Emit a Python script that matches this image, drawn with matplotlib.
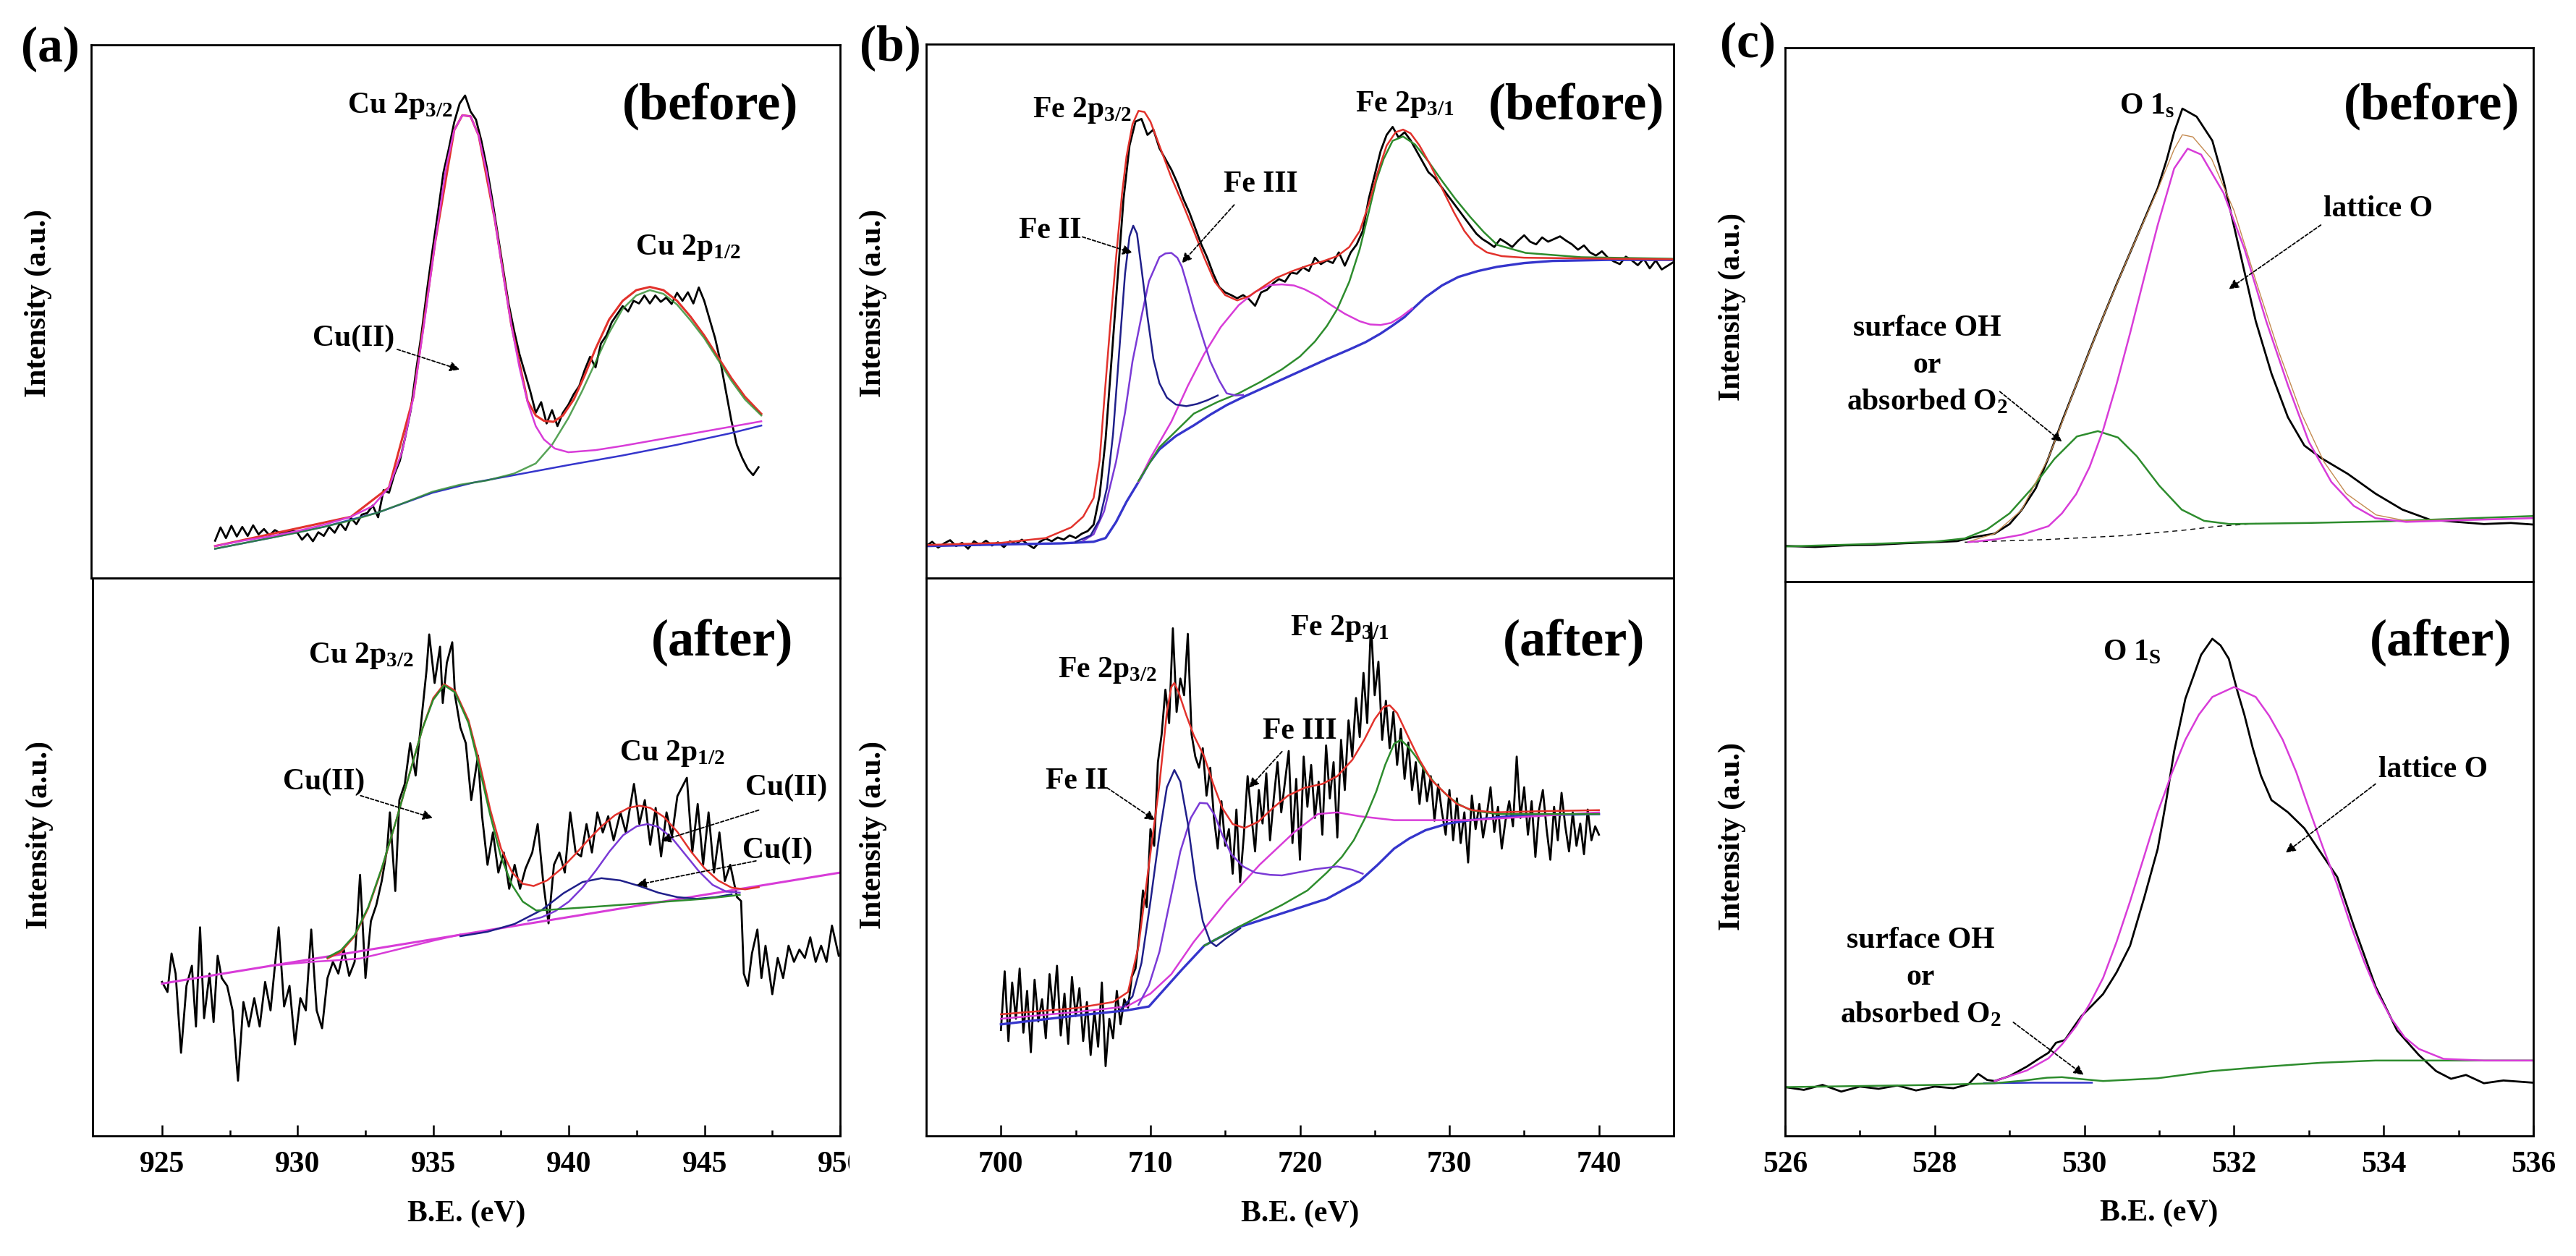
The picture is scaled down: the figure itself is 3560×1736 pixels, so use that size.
import numpy as np
import matplotlib
matplotlib.use('Agg')
import matplotlib.pyplot as plt
from matplotlib.transforms import Bbox, TransformedBbox

plt.rcParams['font.family'] = 'Liberation Serif'
plt.rcParams['font.weight'] = 'bold'
plt.rcParams['axes.labelweight'] = 'bold'
plt.rcParams['mathtext.default'] = 'regular'

#--------------------------------------#
# values, y in % of each panel's height

# (a) Cu 2p, before
a1_data_start, a1_data_step = 927.0, 0.2
a1_data = [7.0, 9.5, 7.5, 9.8, 7.8, 9.6, 7.9, 9.9, 8.2, 9.2, 8.0, 9.0, 8.4, 8.6, 8.9, 8.7,
           7.2, 8.3, 6.9, 8.6, 7.9, 9.6, 8.5, 10.3, 9.0, 11.3, 10.1, 11.9, 12.2, 13.6, 11.4,
           16.5, 16.0, 19.5, 22.0, 26.5, 31.5, 39.0, 46.0, 54.0, 61.5, 68.5, 76.0, 80.5, 85.5,
           89.0, 90.5, 87.5, 86.0, 82.0, 77.0, 71.0, 64.5, 58.0, 51.5, 46.5, 42.0, 38.5, 35.0,
           31.0, 33.0, 29.0, 31.5, 28.5, 31.0, 32.5, 34.5, 36.0, 39.0, 41.5, 39.5, 44.0, 45.5,
           48.0, 49.5, 51.0, 50.0, 52.0, 51.5, 53.0, 51.5, 53.0, 51.8, 52.6, 51.4, 53.5, 52.0,
           53.6, 51.5, 54.5, 52.0, 48.5, 45.0, 40.5, 35.0, 29.5, 25.0, 22.5, 20.5, 19.3, 20.8]
a1_pink_x = [927.0, 928, 929, 930, 931, 932, 932.8, 933.4, 933.9, 934.3, 934.7, 935.1, 935.5,
             935.8, 936.1, 936.4, 936.7, 937.0, 937.3, 937.6, 937.9, 938.2, 938.5, 938.8,
             939.1, 939.5, 940.0, 941, 942, 943, 944, 945, 946, 947.1]
a1_pink_y = [6.0, 7.0, 7.8, 8.8, 10.0, 11.5, 13.5, 17, 24, 34, 48, 63, 77, 84, 86.8, 86.6, 83,
             76, 67, 57, 47.5, 39.5, 33, 28.5, 26, 24.3, 23.6, 24.0, 24.8, 25.7, 26.6, 27.5,
             28.4, 29.4]
a1_red_x = [927.0, 932, 933.4, 934.3, 935.1, 935.8, 936.1, 936.4, 936.7, 937.3, 937.9, 938.5,
            938.8, 939.1, 939.45, 939.8, 940.2, 940.6, 941.0, 941.5, 942.0, 942.5, 943.0,
            943.5, 944.0, 944.5, 945.0, 945.5, 946.0, 946.5, 947.1]
a1_red_y = [6.0, 11.5, 17, 34, 63, 84, 86.8, 86.6, 83, 67, 47.5, 33.2, 30.5, 29.5, 29.3, 30.5,
            33.5, 38, 43, 48.5, 52, 54, 54.6, 54, 52, 49, 45.5, 41.5, 37.5, 34, 30.8]
a1_green_x = [927.0, 928, 929, 930, 931, 932, 933, 934, 935, 936, 937, 938, 938.8, 939.4,
              940.0, 940.5, 941.0, 941.5, 942.0, 942.5, 943.0, 943.5, 944.0, 944.5, 945.0,
              945.5, 946.0, 946.5, 947.1]
a1_green_y = [5.5, 6.5, 7.5, 8.5, 9.6, 10.8, 12.3, 14.2, 16.2, 17.5, 18.3, 19.6, 21.5, 25, 30,
              35, 40.5, 46, 50.5, 53, 54, 53.3, 51.3, 48.3, 45, 41, 37, 33.5, 30.5]
a1_blue_x = [927.0, 929, 931, 933, 935, 936.5, 938, 940, 942, 944, 946, 947.1]
a1_blue_y = [5.5, 7.5, 9.6, 12.3, 16.0, 17.9, 19.3, 21.2, 23.0, 25.0, 27.2, 28.6]

# (a) Cu 2p, after
a2_data_x = [925.0, 925.2, 925.35, 925.5, 925.7, 925.9, 926.1, 926.25, 926.4, 926.55, 926.75,
             926.9, 927.05, 927.2, 927.4, 927.6, 927.8, 928.0, 928.2, 928.4, 928.6, 928.8,
             929.0, 929.3, 929.5, 929.7, 929.9, 930.1, 930.3, 930.5, 930.7, 930.9, 931.1,
             931.3, 931.5, 931.7, 931.9, 932.1, 932.3, 932.5, 932.7, 932.9, 933.1, 933.3,
             933.4, 933.6, 933.75, 933.95, 934.15, 934.35, 934.55, 934.75, 934.85, 935.05,
             935.25, 935.35, 935.5, 935.7, 935.8, 936.0, 936.2, 936.4, 936.65, 936.8, 937.0,
             937.2, 937.4, 937.6, 937.8, 938.0, 938.2, 938.4, 938.65, 938.85, 939.05, 939.25,
             939.45, 939.65, 939.85, 940.05, 940.25, 940.45, 940.65, 940.85, 941.05, 941.25,
             941.45, 941.65, 941.9, 942.1, 942.4, 942.6, 942.8, 943.0, 943.2, 943.4, 943.6,
             943.8, 944.0, 944.35, 944.55, 944.75, 944.95, 945.15, 945.35, 945.55, 945.75,
             945.95, 946.2, 946.35, 946.45, 946.6, 946.75, 946.95, 947.1, 947.25, 947.5,
             947.7, 947.9, 948.1, 948.3, 948.5, 948.7, 948.9, 949.1, 949.3, 949.5, 949.7,
             949.95]
a2_data_y = [27.6, 25.8, 32.7, 29.1, 14.9, 26.9, 30.5, 19.6, 37.4, 21.1, 29.1, 20.4, 32.3,
             28.3, 26.9, 22.5, 9.9, 24.0, 19.6, 24.7, 19.6, 27.6, 22.5, 37.4, 23.2, 26.9,
             16.4, 24.7, 22.5, 37.0, 22.5, 19.3, 28.3, 31.2, 29.1, 33.4, 28.7, 31.2, 46.8,
             28.3, 38.5, 41.4, 45.7, 51.5, 58.0, 43.9, 60.2, 63.1, 70.4, 64.6, 74.0, 83.4,
             89.9, 81.2, 87.7, 77.6, 84.8, 88.5, 79.0, 73.2, 70.4, 60.2, 68.2, 57.3, 48.6,
             54.4, 47.2, 50.8, 44.3, 48.6, 44.3, 47.9, 50.8, 55.9, 45.7, 38.1, 48.6, 50.8,
             47.2, 58.0, 50.8, 50.1, 55.9, 50.8, 58.0, 54.4, 57.3, 53.0, 58.0, 54.4, 63.1,
             55.9, 60.2, 52.2, 58.8, 50.1, 58.0, 53.7, 60.9, 64.2, 50.8, 59.5, 48.6, 58.0,
             47.2, 54.4, 45.7, 48.6, 42.8, 42.1, 29.1, 26.9, 32.7, 37.0, 28.3, 34.1, 25.4,
             31.9, 28.3, 34.1, 31.2, 33.4, 31.9, 35.6, 31.2, 34.1, 31.2, 37.7, 32.3]
a2_mag_x = [925.0, 950.0]
a2_mag_y = [27.3, 47.2]
a2_mag2_x = [929.0, 930.5, 931.5, 932.3, 933.0, 934.0, 935.0, 936.0]
a2_mag2_y = [30.5, 31.2, 31.5, 31.8, 32.6, 33.8, 35.0, 36.1]
a2_green_x = [931.1, 931.6, 932.1, 932.6, 933.1, 933.6, 934.1, 934.6, 935.0, 935.4, 935.8,
              936.3, 936.7, 937.1, 937.5, 937.9, 938.3, 938.8, 939.5, 941, 943, 945, 946.3]
a2_green_y = [32.0, 33.3, 36.0, 41, 48, 56, 64.5, 73, 78.2, 80.8, 79.5, 74.0, 66.0, 57.5, 50,
              45, 42, 40.4, 40.6, 41.1, 41.8, 42.5, 43.2]
a2_red_x = [931.1, 931.6, 932.1, 932.6, 933.1, 933.6, 934.1, 934.6, 935.0, 935.4, 935.8, 936.3,
            936.7, 937.1, 937.5, 937.9, 938.3, 938.7, 939.2, 939.7, 940.2, 940.7, 941.2,
            941.7, 942.2, 942.6, 943.0, 943.5, 944.0, 944.5, 945.0, 945.5, 946.0, 946.5, 947.0]
a2_red_y = [31.8, 33.0, 35.8, 40.8, 47.8, 56, 64.5, 73, 78.5, 81.0, 79.8, 74.5, 67.0, 58.5,
            51.5, 47.3, 45.2, 44.8, 45.8, 47.8, 50.3, 53, 55.5, 57.5, 58.8, 59.2, 58.8, 57.2,
            54.5, 51, 48, 45.8, 44.5, 44.2, 44.6]
a2_violet_x = [938.5, 939.0, 939.5, 940.0, 940.5, 941.0, 941.5, 942.0, 942.5, 942.9, 943.3,
               943.8, 944.3, 944.8, 945.3, 945.8, 946.3]
a2_violet_y = [38.6, 39.2, 40.3, 42.0, 44.5, 47.6, 51.0, 53.9, 55.5, 55.9, 55.4, 53.4, 50.4,
               47.4, 45.0, 43.8, 43.6]
a2_navy_x = [936.0, 937.0, 938.0, 939.0, 939.8, 940.5, 941.2, 941.9, 942.6, 943.3, 944.0,
             944.7, 945.4, 946.0]
a2_navy_y = [35.8, 36.6, 38.0, 40.5, 43.5, 45.5, 46.2, 45.8, 44.8, 43.6, 42.8, 42.5, 42.8, 43.3]

# (b) Fe 2p, before
b1_data_start, b1_data_step = 695.0, 0.4
b1_data = [6.0, 6.8, 5.7, 6.5, 7.1, 6.0, 6.6, 5.5, 6.9, 6.2, 7.0, 6.1, 6.7, 5.8, 6.9, 6.4,
           7.2, 6.3, 5.6, 6.8, 7.4, 6.9, 7.6, 7.2, 8.0, 7.5, 8.3, 8.8, 10.0, 15.5, 26.0, 41.0,
           56.0, 71.0, 81.0, 85.5, 86.0, 83.0, 84.0, 80.5, 78.5, 76.5, 74.0, 71.0, 68.5, 65.5,
           62.5, 60.0, 57.0, 54.5, 53.5, 53.0, 52.4, 53.0, 52.2, 51.0, 53.5, 54.0, 55.2, 56.0,
           55.5, 57.2, 57.0, 58.2, 57.5, 60.0, 58.8, 59.5, 59.0, 61.0, 58.5, 61.0, 62.5, 65.0,
           71.0, 75.5, 80.0, 83.0, 84.5, 82.5, 83.5, 82.0, 80.0, 78.0, 76.0, 75.0, 73.5, 72.0,
           70.5, 69.0, 67.5, 66.0, 64.5, 63.5, 62.8, 62.0, 63.5, 62.8, 62.0, 63.2, 64.2, 63.0,
           62.5, 63.8, 63.0, 63.5, 64.0, 63.2, 62.5, 61.5, 62.3, 61.0, 60.4, 61.2, 60.0, 59.3,
           58.8, 60.2, 59.5, 58.6, 59.8, 58.0, 59.5, 57.8, 58.5, 59.2]
b1_red_x = [695.0, 700, 703, 704.7, 705.5, 706.2, 706.6, 706.9, 707.3, 707.7, 708.1, 708.4,
            708.8, 709.2, 709.6, 710.0, 710.6, 711.4, 712.1, 712.9, 713.6, 714.3, 715.0,
            715.8, 716.6, 717.5, 718.4, 719.5, 720.5, 721.5, 722.5, 723.3, 724.0, 724.6,
            725.2, 725.8, 726.4, 726.9, 727.4, 728.0, 728.7, 729.5, 730.3, 731.0, 731.7,
            732.5, 733.5, 735, 738, 741, 745]
b1_red_y = [6.2, 6.6, 7.5, 9.5, 11.5, 15, 22, 33, 47, 60, 72, 79, 85, 87.5, 87.3, 85.5, 81,
            75, 70.5, 65, 60, 55.5, 53, 52, 52.8, 54.5, 56.2, 57.5, 58.5, 59.3, 60.3, 62, 65,
            70, 76, 81, 83.5, 84, 83.3, 81, 77.5, 73, 68.5, 65, 62.5, 61, 60.3, 60, 59.9,
            59.8, 59.7]
b1_navy_x = [705.0, 706.0, 706.6, 707.1, 707.5, 707.9, 708.3, 708.6, 708.85, 709.1, 709.4,
             709.8, 710.2, 710.6, 711.1, 711.7, 712.4, 713.1, 713.8, 714.5]
b1_navy_y = [6.8, 8.0, 11, 17, 27, 42, 57, 64, 66, 64.5, 58, 49, 41, 36.5, 33.8, 32.5, 32.2,
             32.6, 33.3, 34.2]
b1_violet_x = [705.5, 706.2, 706.9, 707.7, 708.3, 708.8, 709.4, 709.9, 710.6, 711.0, 711.4,
               711.8, 712.1, 712.5, 712.9, 713.5, 714.0, 714.6, 715.1, 715.7, 716.2]
b1_violet_y = [7.0, 8.2, 12.5, 21.8, 31, 40.6, 49, 55.6, 60.1, 60.8, 60.9, 60.0, 58.3, 54.5,
               50.4, 45, 40.6, 37, 34.6, 34.2, 34.3]
b1_mag_x = [709.2, 710.0, 711.4, 712.5, 713.6, 714.7, 715.9, 717.0, 718.0, 718.8, 719.6,
            720.3, 721.2, 722.1, 723.0, 724.0, 724.7, 725.4, 726.1, 726.75, 727.5]
b1_mag_y = [18, 22.5, 29.3, 36, 42, 47, 51.1, 53.6, 54.9, 55.0, 54.8, 54.1, 52.8, 51.1, 49.5,
            48.1, 47.5, 47.4, 47.8, 48.9, 50.5]
b1_bg_x = [695.0, 700, 704, 706.2, 707.0, 707.7, 708.4, 709.2, 709.9, 710.6, 711.7, 712.9,
           714.0, 715.1, 716.2, 717.3, 718.8, 720.3, 721.8, 723.3, 724.4, 725.4, 726.2,
           727.0, 727.7, 728.4, 729.5, 730.6, 731.9, 733.2, 735, 736.9, 738.8, 740.6, 742.5, 745]
b1_bg_y = [6.0, 6.3, 6.5, 6.8, 7.5, 10.5, 14.3, 18, 21.5, 24.1, 26.6, 28.6, 30.6, 32.4, 33.9,
           35.3, 37.2, 39.1, 41.0, 42.8, 44.2, 45.8, 47.3, 48.9, 50.8, 52.6, 54.8, 56.4,
           57.5, 58.3, 59.0, 59.4, 59.5, 59.6, 59.6, 59.6]
b1_green_x = [709.2, 710.6, 712.9, 714.5, 715.9, 717.4, 718.8, 720.0, 721.0, 721.8, 722.5,
              723.3, 724.0, 724.6, 725.1, 725.6, 726.2, 726.9, 727.7, 728.6, 729.5, 730.4,
              731.4, 732.3, 733.2, 735.1, 738.8, 745]
b1_green_y = [18.2, 24.5, 30.8, 33.0, 34.6, 36.8, 39.1, 41.5, 44.3, 47.2, 50.4, 55.5, 61.6,
              68.5, 74.4, 78.5, 81.9, 82.7, 81.2, 78, 74.4, 71, 67.6, 64.8, 62.4, 60.9, 60.1,
              59.8]

# (b) Fe 2p, after
b2_data_start, b2_data_step = 700.0, 0.25
b2_data = [19.0, 29.5, 17.0, 27.5, 21.0, 30.0, 18.5, 26.0, 15.0, 28.0, 20.5, 24.5, 17.5,
           29.0, 22.0, 30.5, 18.0, 25.5, 16.5, 28.5, 21.5, 26.5, 17.0, 24.0, 14.5, 22.5,
           16.0, 27.5, 12.5, 21.0, 17.5, 26.0, 20.0, 24.5, 23.0, 28.5, 30.0, 36.0, 44.0,
           41.0, 55.0, 52.0, 67.0, 72.0, 80.0, 74.0, 91.0, 76.0, 82.0, 79.0, 90.0, 72.0,
           68.0, 66.0, 69.5, 61.0, 66.0, 57.0, 51.5, 60.0, 52.0, 55.0, 47.0, 58.5, 45.5,
           54.0, 64.5, 57.5, 51.0, 62.0, 56.0, 65.0, 53.0, 60.5, 67.0, 58.0, 63.5, 69.0,
           52.5, 64.0, 49.5, 68.0, 59.0, 66.5, 57.0, 63.5, 54.0, 70.0, 60.5, 67.0, 53.5,
           71.0, 62.0, 74.5, 68.0, 78.5, 71.5, 83.0, 74.0, 92.0, 79.0, 85.0, 71.0, 78.0,
           69.5, 76.0, 66.5, 73.0, 64.0, 70.5, 62.0, 67.0, 59.5, 66.0, 60.0, 64.5, 56.5,
           63.0, 58.0, 54.0, 62.0, 53.0, 60.5, 52.5, 58.0, 49.0, 61.0, 55.0, 59.5, 53.5,
           57.5, 62.5, 54.5, 59.0, 51.5, 56.5, 60.0, 55.5, 68.0, 57.0, 62.5, 54.0, 60.0,
           50.0, 58.5, 62.0, 55.0, 49.5, 59.0, 53.0, 61.5, 55.5, 51.0, 58.0, 52.0, 56.0,
           50.5, 58.5, 53.0, 55.5, 54.0]
b2_red_x = [700, 705, 707.5, 708.5, 709.2, 709.9, 710.6, 711.1, 711.4, 711.6, 711.9, 712.4,
            712.9, 713.6, 714.2, 714.8, 715.5, 716.3, 717.2, 718.2, 719.2, 720.3, 721.5,
            722.5, 723.5, 724.3, 725.0, 725.6, 726.0, 726.5, 727.2, 728.0, 728.8, 729.6,
            730.5, 731.5, 733, 736, 740]
b2_red_y = [21.8, 22.9, 24.0, 25.8, 34, 48.6, 63, 76, 80.5, 81.2, 79.4, 75.4, 71.8, 68, 63.1,
            58.8, 55.9, 55.2, 56.3, 58.8, 61, 62.4, 63.1, 64.5, 67.4, 71, 74.7, 76.9, 77.2,
            75.8, 71.8, 67.4, 63.8, 61.7, 59.5, 58.4, 58.0, 58.2, 58.4]
b2_navy_x = [708.0, 708.8, 709.4, 710.0, 710.6, 711.1, 711.6, 712.0, 712.5, 713.0, 713.5,
             714.0, 714.4, 715.0, 716.0]
b2_navy_y = [22.6, 25.0, 31, 42, 54, 62.5, 65.6, 63.5, 56, 46, 38.5, 34.8, 34.0, 35.3, 37.2]
b2_violet_x = [709.2, 709.9, 710.6, 711.3, 712.0, 712.7, 713.3, 713.8, 714.3, 714.8, 715.4,
               716.2, 717.0, 718.0, 718.8, 719.8, 721.0, 722.5, 723.5, 724.2]
b2_violet_y = [23.5, 27, 33, 42, 51, 57, 59.7, 59.6, 57.5, 54, 50.5, 48.3, 47.2, 46.8, 46.7,
               47.2, 47.8, 48.3, 47.7, 47.0]
b2_mag_x = [700, 705, 708.4, 710.0, 711.4, 712.9, 715.1, 717.3, 719.6, 721.2, 722.5, 724.0,
            726.3, 731.4, 740]
b2_mag_y = [21.0, 22.2, 23.2, 25.5, 29, 34.8, 42.1, 48.6, 54.4, 57.7, 58.0, 57.3, 56.6, 56.6,
            58.0]
b2_bg_x = [700, 705.5, 708.4, 709.9, 711.0, 712.1, 713.6, 715.9, 718.8, 721.8, 724.0, 725.2,
           726.3, 727.3, 728.4, 729.9, 731.4, 733.2, 735.1, 740]
b2_bg_y = [20.0, 21.7, 22.5, 23.2, 26.5, 29.8, 34.1, 37.4, 39.9, 42.5, 45.7, 48.6, 51.5, 53.3,
           54.8, 56.0, 56.6, 57.1, 57.5, 57.7]
b2_green_x = [713.6, 716, 718.8, 720.5, 721.8, 722.8, 723.6, 724.4, 725.1, 725.7, 726.3,
              726.75, 727.3, 727.8, 728.4, 729.1, 729.9, 730.6, 731.4, 733.2, 740]
b2_green_y = [34.1, 37.6, 41.4, 44.0, 47.2, 50.0, 53, 57.2, 61.7, 66.5, 70.3, 71, 69.6, 67.8,
              65.3, 63.0, 60.9, 59.5, 58.4, 57.7, 57.7]

# (c) O 1s, before
c1_data_x = [526.0, 526.4, 526.8, 527.2, 527.6, 528.0, 528.3, 528.5, 528.8, 529.0, 529.16,
             529.35, 529.52, 529.7, 529.89, 530.07, 530.25, 530.43, 530.61, 530.8, 530.98,
             531.1, 531.2, 531.31, 531.5, 531.71, 531.86, 532.07, 532.29, 532.5, 532.72,
             532.94, 533.16, 533.52, 533.89, 534.25, 534.62, 534.98, 535.34, 535.7, 536.0]
c1_data_y = [6.7, 6.5, 6.8, 6.9, 7.2, 7.4, 7.6, 8.3, 9.0, 10.8, 13.4, 17.5, 23.2, 30.0, 36.8,
             43.3, 49.6, 55.7, 61.6, 67.8, 73.7, 79.0, 84.2, 88.6, 87.1, 82.6, 75.1, 62.3,
             48.8, 39.0, 30.8, 25.5, 23.2, 20.2, 16.5, 13.5, 11.6, 11.2, 10.8, 11.0, 10.7]
c1_mag_x = [528.45, 528.8, 529.16, 529.52, 529.7, 529.89, 530.07, 530.25, 530.43, 530.61,
            530.8, 530.98, 531.2, 531.38, 531.56, 531.86, 532.14, 532.43, 532.72, 533.0,
            533.3, 533.6, 533.89, 534.3, 535, 536]
c1_mag_y = [7.4, 7.9, 8.8, 10.4, 12.8, 16.4, 21.5, 28.4, 37, 46.5, 57, 66.8, 77.4, 81.1, 80.0,
            72.8, 62.3, 48.8, 36.8, 26.2, 18.7, 14.2, 11.9, 11.2, 11.5, 11.9]
c1_sum_x = [528.45, 528.8, 529.16, 529.52, 529.89, 530.25, 530.61, 530.98, 531.2, 531.31,
            531.45, 531.7, 532.0, 532.3, 532.6, 532.9, 533.2, 533.5, 533.9, 534.3, 536]
c1_sum_y = [7.5, 9.0, 13.4, 23.2, 36.8, 49.6, 61.6, 73.4, 81, 83.7, 83.3, 79.2, 69.5, 56, 43,
            31.5, 22.5, 16.5, 12.5, 11.4, 11.9]
c1_green_x = [526.0, 527.0, 528.0, 528.4, 528.7, 529.0, 529.3, 529.6, 529.9, 530.18, 530.45,
              530.7, 531.0, 531.3, 531.6, 531.94, 533.0, 534.0, 536.0]
c1_green_y = [6.6, 7.0, 7.5, 8.1, 9.8, 12.8, 17.5, 23.0, 27.2, 28.2, 27.0, 23.5, 18.0, 13.5,
              11.4, 10.8, 11.0, 11.3, 12.3]
c1_base_x = [528.4, 529.5, 530.5, 531.3, 531.8, 532.3]
c1_base_y = [7.4, 7.9, 8.6, 9.6, 10.4, 10.9]

# (c) O 1s, after
c2_data_x = [526.0, 526.25, 526.5, 526.75, 527.0, 527.25, 527.5, 527.75, 528.0, 528.25,
             528.45, 528.58, 528.7, 528.8, 529.0, 529.23, 529.4, 529.52, 529.62, 529.74,
             529.85, 529.96, 530.1, 530.25, 530.43, 530.61, 530.8, 530.98, 531.1, 531.2,
             531.35, 531.56, 531.71, 531.82, 531.93, 532.04, 532.14, 532.25, 532.36, 532.5,
             532.72, 532.94, 533.16, 533.38, 533.6, 533.89, 534.18, 534.47, 534.7, 534.9,
             535.1, 535.34, 535.6, 535.8, 536.0]
c2_data_y = [8.8, 8.3, 9.2, 8.0, 8.9, 8.5, 9.1, 8.2, 8.9, 8.6, 9.3, 11.2, 10.1, 9.9, 10.8,
             12.5, 14.0, 15.0, 16.8, 17.3, 19.5, 21.6, 23.5, 25.6, 29.5, 34.3, 43.0, 51.8,
             61.0, 69.4, 78.9, 86.8, 89.7, 88.5, 86.1, 80.5, 75.9, 70.0, 65.0, 60.6, 58.4,
             55.5, 51.1, 46.7, 37.9, 27.0, 19.0, 14.6, 11.7, 10.3, 11.0, 9.5, 10.0, 9.8, 9.6]
c2_mag_x = [528.8, 529.23, 529.52, 529.7, 529.89, 530.07, 530.25, 530.43, 530.61, 530.8,
            530.98, 531.17, 531.35, 531.53, 531.71, 532.0, 532.29, 532.47, 532.65, 532.83,
            533.0, 533.19, 533.38, 533.56, 533.74, 533.92, 534.1, 534.28, 534.47, 534.8,
            535.34, 536]
c2_mag_y = [9.9, 11.8, 14.0, 16.5, 19.8, 23.8, 28.5, 35.0, 42.3, 50.5, 58.4, 65.5, 71.5,
            76.0, 79.2, 81.0, 79.2, 75.8, 71.5, 65.7, 59.1, 52.0, 45.3, 38.0, 31.4, 25.7,
            21.2, 17.8, 15.7, 13.9, 13.6, 13.6]
c2_green_x = [526.0, 528.0, 528.8, 529.2, 529.5, 529.7, 530.0, 530.25, 530.98, 531.71,
              532.43, 533.16, 533.89, 536]
c2_green_y = [8.8, 9.2, 9.5, 10.0, 10.5, 10.6, 10.2, 9.9, 10.4, 11.7, 12.5, 13.2, 13.6, 13.6]
c2_blue_x = [528.66, 529.3, 530.1]
c2_blue_y = [9.5, 9.6, 9.6]

#--------------------------------------#

RED = '#e2322c'
MAG = '#d83cd8'
GRN = '#2d8c2d'
NAVY = '#1f1f8a'
VIO = '#7a3ad6'
BLUE = '#3535cc'
BROWN = '#c48a50'

W, H = 3560, 1736
fig = plt.figure(figsize=(W / 100, H / 100), dpi=100)


def box(x0, y0, x1, y1):
    return fig.add_axes([x0 / W, 1 - y1 / H, (x1 - x0) / W, (y1 - y0) / H])


def style(ax, xlim, bottom, majors=None, minors=None):
    ax.set_xlim(xlim)
    ax.set_ylim(0, 100)
    ax.set_yticks([])
    for s in ax.spines.values():
        s.set_linewidth(2.0)
    if bottom:
        ax.set_xticks(majors)
        ax.set_xticklabels([str(v) for v in majors], fontweight='bold')
        ax.set_xticks(minors, minor=True)
        ax.tick_params(axis='x', which='major', direction='in', length=11, width=1.8,
                       labelsize=30, pad=15)
        ax.tick_params(axis='x', which='minor', direction='in', length=6, width=1.8)
        ax.set_xlabel('B.E. (eV)', fontsize=30, fontweight='bold', va='center')
        ax.xaxis.set_label_coords(0.5, -0.14)
        ax.set_ylabel('Intensity (a.u.)', fontsize=30, fontweight='bold', va='center')
        ax.yaxis.set_label_coords(-0.071, 0.54)
    else:
        ax.set_xticks([])
        ax.set_ylabel('Intensity (a.u.)', fontsize=30, fontweight='bold', va='center')
        ax.yaxis.set_label_coords(-0.071, 0.515)


def arrow(ax, start, end):
    ax.annotate('', xy=end, xytext=start,
                arrowprops=dict(arrowstyle='-|>', color='black', lw=1.3,
                                linestyle=(0, (2.5, 1.5)), mutation_scale=20,
                                shrinkA=0, shrinkB=0))


def grid_x(start, step, vals):
    return start + step * np.arange(len(vals))


LW = 1.8
DW = 2.0
FS = 30

# ---------- (a) ----------
ax = box(126, 62, 1161, 799)
style(ax, (922.44, 950.0), False)
ax.plot(grid_x(a1_data_start, a1_data_step, a1_data), a1_data, color='black', lw=DW)
ax.plot(a1_blue_x, a1_blue_y, color=BLUE, lw=LW)
ax.plot(a1_red_x, a1_red_y, color=RED, lw=2.2)
ax.plot(a1_green_x, a1_green_y, color=GRN, lw=LW, alpha=0.8)
ax.plot(a1_pink_x, a1_pink_y, color=MAG, lw=LW)
ax.text(931.86, 88.5, r'Cu 2p$_{3/2}$', fontsize=FS, ha='left', va='center')
ax.text(942.46, 62.0, r'Cu 2p$_{1/2}$', fontsize=FS, ha='left', va='center')
ax.text(930.59, 45.0, 'Cu(II)', fontsize=FS, ha='left', va='center')
arrow(ax, (933.7, 42.9), (936.0, 39.1))
ax.text(0.827, 0.885, '(before)', transform=ax.transAxes, fontsize=52, ha='center', va='center')

ax = box(128, 799, 1161, 1570)
style(ax, (922.44, 950.0), True, list(range(925, 951, 5)), np.arange(927.5, 950, 5))
ax.plot(a2_data_x, a2_data_y, color='black', lw=DW)
ax.plot(a2_mag_x, a2_mag_y, color=MAG, lw=2.2)
ax.plot(a2_mag2_x, a2_mag2_y, color=MAG, lw=LW)
ax.plot(a2_navy_x, a2_navy_y, color=NAVY, lw=LW)
ax.plot(a2_violet_x, a2_violet_y, color=VIO, lw=LW)
ax.plot(a2_red_x, a2_red_y, color=RED, lw=LW)
ax.plot(a2_green_x, a2_green_y, color=GRN, lw=LW)
ax.text(930.4, 86.0, r'Cu 2p$_{3/2}$', fontsize=FS, ha='left', va='center')
ax.text(941.85, 68.5, r'Cu 2p$_{1/2}$', fontsize=FS, ha='left', va='center')
ax.text(929.47, 63.4, 'Cu(II)', fontsize=FS, ha='left', va='center')
arrow(ax, (932.32, 61.0), (934.98, 57.0))
ax.text(946.5, 62.4, 'Cu(II)', fontsize=FS, ha='left', va='center')
arrow(ax, (947.0, 58.4), (943.4, 52.9))
ax.text(946.4, 51.1, 'Cu(I)', fontsize=FS, ha='left', va='center')
arrow(ax, (946.9, 49.3), (942.5, 45.0))
ax.text(0.842, 0.885, '(after)', transform=ax.transAxes, fontsize=52, ha='center', va='center')
# the 950 label is cut off in the original
lab = ax.xaxis.get_major_ticks()[-1].label1
lab.set_clip_on(True)
lab.set_clip_box(TransformedBbox(Bbox.from_extents(0, 0, 1174 / W, 1), fig.transFigure))

# ---------- (b) ----------
ax = box(1280, 61, 2313, 799)
style(ax, (695, 745), False)
ax.plot(grid_x(b1_data_start, b1_data_step, b1_data), b1_data, color='black', lw=DW)
ax.plot(b1_bg_x, b1_bg_y, color=BLUE, lw=2.4)
ax.plot(b1_mag_x, b1_mag_y, color=MAG, lw=LW)
ax.plot(b1_green_x, b1_green_y, color=GRN, lw=LW)
ax.plot(b1_violet_x, b1_violet_y, color=VIO, lw=LW)
ax.plot(b1_navy_x, b1_navy_y, color=NAVY, lw=LW)
ax.plot(b1_red_x, b1_red_y, color=RED, lw=LW)
ax.text(702.1, 87.6, r'Fe 2p$_{3/2}$', fontsize=FS, ha='left', va='center')
ax.text(723.7, 88.7, r'Fe 2p$_{3/1}$', fontsize=FS, ha='left', va='center')
ax.text(714.9, 73.7, 'Fe III', fontsize=FS, ha='left', va='center')
arrow(ax, (715.6, 69.9), (712.1, 59.0))
ax.text(701.2, 65.0, 'Fe II', fontsize=FS, ha='left', va='center')
arrow(ax, (705.45, 63.9), (708.8, 60.9))
ax.text(0.870, 0.883, '(before)', transform=ax.transAxes, fontsize=52, ha='center', va='center')

ax = box(1280, 799, 2313, 1570)
style(ax, (695, 745), True, list(range(700, 741, 10)), np.arange(705, 740, 10))
ax.plot(grid_x(b2_data_start, b2_data_step, b2_data), b2_data, color='black', lw=DW)
ax.plot(b2_bg_x, b2_bg_y, color=BLUE, lw=2.4)
ax.plot(b2_mag_x, b2_mag_y, color=MAG, lw=LW)
ax.plot(b2_green_x, b2_green_y, color=GRN, lw=LW)
ax.plot(b2_violet_x, b2_violet_y, color=VIO, lw=LW)
ax.plot(b2_navy_x, b2_navy_y, color=NAVY, lw=LW)
ax.plot(b2_red_x, b2_red_y, color=RED, lw=LW)
ax.text(703.8, 83.4, r'Fe 2p$_{3/2}$', fontsize=FS, ha='left', va='center')
ax.text(719.35, 91.0, r'Fe 2p$_{3/1}$', fontsize=FS, ha='left', va='center')
ax.text(717.5, 72.5, 'Fe III', fontsize=FS, ha='left', va='center')
arrow(ax, (718.8, 68.9), (716.6, 62.4))
ax.text(703.0, 63.5, 'Fe II', fontsize=FS, ha='left', va='center')
arrow(ax, (707.1, 62.4), (710.3, 56.6))
ax.text(0.866, 0.885, '(after)', transform=ax.transAxes, fontsize=52, ha='center', va='center')

# ---------- (c) ----------
ax = box(2467, 66, 3501, 804)
style(ax, (526, 536), False)
ax.plot(c1_data_x, c1_data_y, color='black', lw=DW)
ax.plot(c1_base_x, c1_base_y, color='black', lw=1.0, ls=(0, (5, 4)))
ax.plot(c1_green_x, c1_green_y, color=GRN, lw=LW)
ax.plot(c1_sum_x, c1_sum_y, color=BROWN, lw=1.0)
ax.plot(c1_mag_x, c1_mag_y, color=MAG, lw=LW)
ax.text(530.47, 89.0, r'O 1$_{s}$', fontsize=FS, ha='left', va='center')
ax.text(533.2, 69.8, 'lattice O', fontsize=FS, ha='left', va='center')
arrow(ax, (533.16, 66.8), (531.93, 54.8))
ax.text(527.9, 40.5, 'surface OH\nor\nabsorbed O$_{2}$', fontsize=FS, ha='center',
        va='center', multialignment='center', linespacing=1.45)
arrow(ax, (528.87, 35.6), (529.7, 26.2))
ax.text(0.864, 0.89, '(before)', transform=ax.transAxes, fontsize=52, ha='center', va='center')

ax = box(2467, 804, 3501, 1570)
style(ax, (526, 536), True, list(range(526, 537, 2)), np.arange(527, 536, 2))
ax.plot(c2_data_x, c2_data_y, color='black', lw=DW)
ax.plot(c2_blue_x, c2_blue_y, color=BLUE, lw=LW)
ax.plot(c2_green_x, c2_green_y, color=GRN, lw=LW)
ax.plot(c2_mag_x, c2_mag_y, color=MAG, lw=LW)
ax.text(530.25, 87.2, r'O 1$_{S}$', fontsize=FS, ha='left', va='center')
ax.text(533.93, 66.0, 'lattice O', fontsize=FS, ha='left', va='center')
arrow(ax, (533.89, 63.5), (532.69, 51.1))
ax.text(527.81, 28.5, 'surface OH\nor\nabsorbed O$_{2}$', fontsize=FS, ha='center',
        va='center', multialignment='center', linespacing=1.45)
arrow(ax, (529.05, 20.5), (529.99, 11.0))
ax.text(0.876, 0.89, '(after)', transform=ax.transAxes, fontsize=52, ha='center', va='center')

# panel letters
fig.text(69 / W, 1 - 68 / H, '(a)', fontsize=50, ha='center', va='center')
fig.text(1230 / W, 1 - 66 / H, '(b)', fontsize=50, ha='center', va='center')
fig.text(2416 / W, 1 - 62 / H, '(c)', fontsize=50, ha='center', va='center')

fig.savefig('out.png', dpi=100)
